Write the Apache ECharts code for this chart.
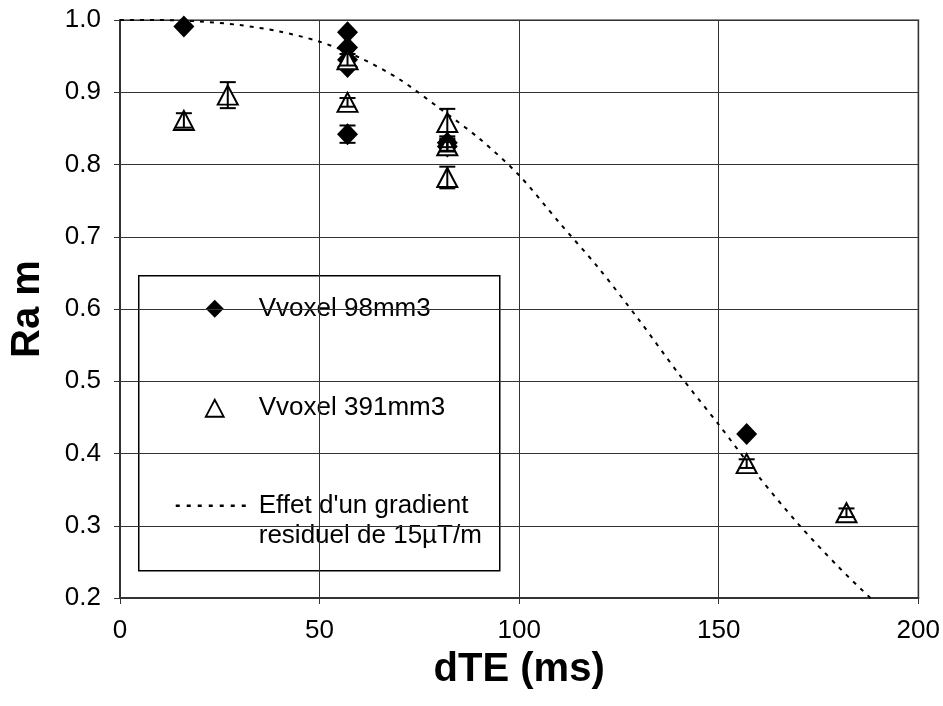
<!DOCTYPE html>
<html>
<head>
<meta charset="utf-8">
<script src="https://cdn.jsdelivr.net/npm/echarts@6/dist/echarts.min.js"></script>
<style>
  html, body { margin: 0; padding: 0; background: #fff; }
  #chart { width: 943px; height: 706px; }
</style>
</head>
<body>
<div id="chart"></div>
<script>
// Vvoxel 98mm3 (filled diamonds)
const smallX = [16, 57, 57, 57, 57, 57, 82, 82, 157];
const smallY = [0.991, 0.983, 0.962, 0.945, 0.935, 0.842, 0.830, 0.825, 0.427];
const smallErr = [0, 0, 0, 0, 0, 0.012, 0.006, 0.006, 0];

// Vvoxel 391mm3 (open triangles)
const bigX = [16, 27, 57, 57, 82, 82, 82, 157, 182];
const bigY = [0.861, 0.896, 0.945, 0.886, 0.858, 0.826, 0.782, 0.386, 0.318];
const bigErr = [0.01, 0.018, 0.008, 0.006, 0.019, 0.008, 0.015, 0.006, 0.006];

// residual gradient effect (dotted curve)
const curveX = [0, 10, 20, 30, 40, 50, 60, 70, 80, 90, 100, 110, 120, 130, 140, 150, 160, 170, 180, 188];
const curveY = [1.0, 1.0, 0.998, 0.993, 0.984, 0.970, 0.948, 0.918, 0.878, 0.836, 0.785, 0.720, 0.656, 0.585, 0.510, 0.440, 0.368, 0.302, 0.243, 0.200];

const xTicks = [0, 50, 100, 150, 200];
const yTicks = [0.2, 0.3, 0.4, 0.5, 0.6, 0.7, 0.8, 0.9, 1.0];

const font = 'Liberation Sans, Arial, sans-serif';
const zip = (xs, ys) => xs.map((x, i) => [x, ys[i]]);

const errData = (xs, ys, es) => xs.map((x, i) => [x, ys[i], es[i]]).filter(d => d[2] > 0);

function renderErr(params, api) {
    const x = api.value(0), y = api.value(1), e = api.value(2);
    const top = api.coord([x, y + e]);
    const bot = api.coord([x, y - e]);
    const w = 8;
    const style = { stroke: '#000', lineWidth: 2 };
    return {
        type: 'group',
        children: [
            { type: 'line', shape: { x1: top[0], y1: top[1], x2: bot[0], y2: bot[1] }, style },
            { type: 'line', shape: { x1: top[0] - w, y1: top[1], x2: top[0] + w, y2: top[1] }, style },
            { type: 'line', shape: { x1: bot[0] - w, y1: bot[1], x2: bot[0] + w, y2: bot[1] }, style }
        ]
    };
}

const chart = echarts.init(document.getElementById('chart'));

chart.setOption({
    backgroundColor: '#fff',
    animation: false,
    grid: {
        left: 117, right: 24, top: 20, bottom: 108,
        show: true, borderColor: '#8c8c8c', borderWidth: 2, backgroundColor: 'transparent'
    },
    xAxis: {
        type: 'value', min: xTicks[0], max: xTicks[xTicks.length - 1], interval: 50,
        name: 'dTE (ms)', nameLocation: 'middle', nameGap: 52,
        nameTextStyle: { fontFamily: font, fontWeight: 'bold', fontSize: 40, color: '#000' },
        axisLine: { show: true, onZero: false, lineStyle: { color: '#333', width: 2 } },
        axisTick: { show: true, inside: false, length: 6, lineStyle: { color: '#333' } },
        axisLabel: { color: '#000', fontFamily: font, fontSize: 26, margin: 20 },
        splitLine: { show: true, lineStyle: { color: '#333', width: 1 } }
    },
    yAxis: {
        type: 'value', min: yTicks[0], max: yTicks[yTicks.length - 1], interval: 0.1,
        name: 'Ra m', nameLocation: 'middle', nameGap: 72, nameRotate: 90,
        nameTextStyle: { fontFamily: font, fontWeight: 'bold', fontSize: 40, color: '#000' },
        axisLine: { show: true, onZero: false, lineStyle: { color: '#333', width: 2 } },
        axisTick: { show: true, inside: false, length: 6, lineStyle: { color: '#333' } },
        axisLabel: { color: '#000', fontFamily: font, fontSize: 26, margin: 19, formatter: v => v.toFixed(1) },
        splitLine: { show: true, lineStyle: { color: '#333', width: 1 } }
    },
    series: [
        {
            name: "Effet d'un gradient residuel de 15µT/m",
            type: 'line',
            data: zip(curveX, curveY),
            smooth: 0.3,
            showSymbol: false,
            lineStyle: { color: '#000', width: 2, type: [4, 6] },
            z: 2
        },
        {
            name: 'Vvoxel 98mm3',
            type: 'scatter',
            data: zip(smallX, smallY),
            symbol: 'diamond',
            symbolSize: [21, 22],
            itemStyle: { color: '#000', opacity: 1 },
            z: 3
        },
        {
            name: 'Vvoxel 391mm3',
            type: 'scatter',
            data: zip(bigX, bigY),
            symbol: 'triangle',
            symbolSize: [20, 19],
            itemStyle: { color: '#fff', borderColor: '#000', borderWidth: 2, opacity: 1 },
            z: 4
        },
        {
            type: 'custom',
            data: errData(smallX, smallY, smallErr),
            renderItem: renderErr,
            z: 5
        },
        {
            type: 'custom',
            data: errData(bigX, bigY, bigErr),
            renderItem: renderErr,
            z: 5
        }
    ],
    graphic: [
        {
            type: 'group', left: 138, top: 275, z: 100,
            children: [
                { type: 'rect', shape: { x: 0, y: 0, width: 361, height: 295 }, style: { fill: '#fff', stroke: '#000', lineWidth: 1.5 } },
                { type: 'polygon', shape: { points: [[76, 24], [85, 33], [76, 42], [67, 33]] }, style: { fill: '#000' } },
                { type: 'text', style: { x: 120, y: 33, text: 'Vvoxel 98mm3', font: '26px ' + font, fill: '#000', verticalAlign: 'middle' } },
                { type: 'polygon', shape: { points: [[76, 124], [85, 141], [67, 141]] }, style: { fill: '#fff', stroke: '#000', lineWidth: 1.8 } },
                { type: 'text', style: { x: 120, y: 132, text: 'Vvoxel 391mm3', font: '26px ' + font, fill: '#000', verticalAlign: 'middle' } },
                { type: 'line', shape: { x1: 37, y1: 230, x2: 113, y2: 230 }, style: { stroke: '#000', lineWidth: 2.5, lineDash: [4, 7] } },
                { type: 'text', style: { x: 120, y: 230, text: "Effet d'un gradient", font: '26px ' + font, fill: '#000', verticalAlign: 'middle' } },
                { type: 'text', style: { x: 120, y: 260, text: 'residuel de 15µT/m', font: '26px ' + font, fill: '#000', verticalAlign: 'middle' } }
            ]
        }
    ]
});
</script>
</body>
</html>
